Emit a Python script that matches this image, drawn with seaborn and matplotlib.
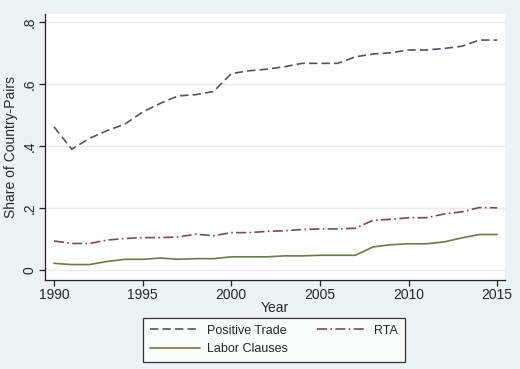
import pandas as pd
import matplotlib.pyplot as plt
import seaborn as sns

# Valores
anos = list(range(1990, 2016))
positive_trade = [0.462, 0.390, 0.425, 0.450, 0.471, 0.510, 0.538, 0.562, 0.566, 0.576,
                  0.634, 0.643, 0.648, 0.656, 0.667, 0.667, 0.667, 0.688, 0.697, 0.701,
                  0.710, 0.710, 0.715, 0.722, 0.742, 0.742]
rta = [0.094, 0.086, 0.086, 0.097, 0.102, 0.105, 0.105, 0.107, 0.116, 0.111,
       0.121, 0.121, 0.125, 0.127, 0.131, 0.133, 0.133, 0.135, 0.161, 0.164,
       0.169, 0.169, 0.181, 0.188, 0.202, 0.201]
labor = [0.022, 0.018, 0.018, 0.028, 0.035, 0.035, 0.039, 0.035, 0.037, 0.037,
         0.043, 0.043, 0.043, 0.046, 0.046, 0.048, 0.048, 0.048, 0.075, 0.082,
         0.085, 0.085, 0.091, 0.104, 0.115, 0.115]

series = ['Positive Trade', 'RTA', 'Labor Clauses']
cores = {'Positive Trade': '#4f5663', 'RTA': '#7d4a52', 'Labor Clauses': '#6a7a48'}
tracos = {'Positive Trade': (5, 2.5), 'RTA': (6, 2, 1, 2), 'Labor Clauses': ''}

df = pd.DataFrame({
    'Year': anos * 3,
    'Share': positive_trade + rta + labor,
    'Serie': [s for s in series for _ in anos],
})

sns.set_style('white')
plt.rcParams['font.family'] = ['Liberation Sans', 'DejaVu Sans']

fig = plt.figure(figsize=(5.2, 3.69), dpi=100)
fig.patch.set_facecolor('#eaf2f3')
ax = fig.add_axes([0.0865, 0.241, 0.885, 0.721])
ax.set_facecolor('white')

sns.lineplot(data=df, x='Year', y='Share', hue='Serie', style='Serie',
             palette=cores, dashes=tracos, hue_order=series, style_order=series,
             linewidth=1.2, ax=ax, legend=False)

ax.set_xlim(1989.49, 2015.45)
ax.set_ylim(-0.032, 0.826)
ax.set_xticks([1990, 1995, 2000, 2005, 2010, 2015])
ax.set_yticks([0, 0.2, 0.4, 0.6, 0.8])
ax.set_yticklabels(['0', '.2', '.4', '.6', '.8'], rotation=90, va='center')
ax.grid(axis='y', color='#eaeaea', linewidth=1)
ax.grid(axis='x', visible=False)
for lado in ['top', 'right']:
    ax.spines[lado].set_visible(False)
for lado in ['left', 'bottom']:
    ax.spines[lado].set_color('#222222')
    ax.spines[lado].set_linewidth(0.9)
ax.tick_params(axis='both', which='major', length=4, width=0.9, color='#222222',
               labelsize=10, direction='out', bottom=True, left=True, pad=2)
ax.set_xlabel('Year', fontsize=10, labelpad=-1)
ax.set_ylabel('Share of Country-Pairs', fontsize=10, labelpad=3)

linhas = {l: ax.lines[i] for i, l in enumerate(series)}
ordem = ['Positive Trade', 'Labor Clauses', 'RTA']
leg = fig.legend([linhas[s] for s in ordem], ordem, ncol=2, loc='center',
                 bbox_to_anchor=(0.527, 0.079), fontsize=9, frameon=True,
                 fancybox=False, edgecolor='black', handlelength=4,
                 handletextpad=0.6, columnspacing=2.3, borderpad=0.55,
                 labelspacing=0.5)
leg.get_frame().set_linewidth(0.9)

fig.savefig('out.png', dpi=100, facecolor=fig.get_facecolor())
